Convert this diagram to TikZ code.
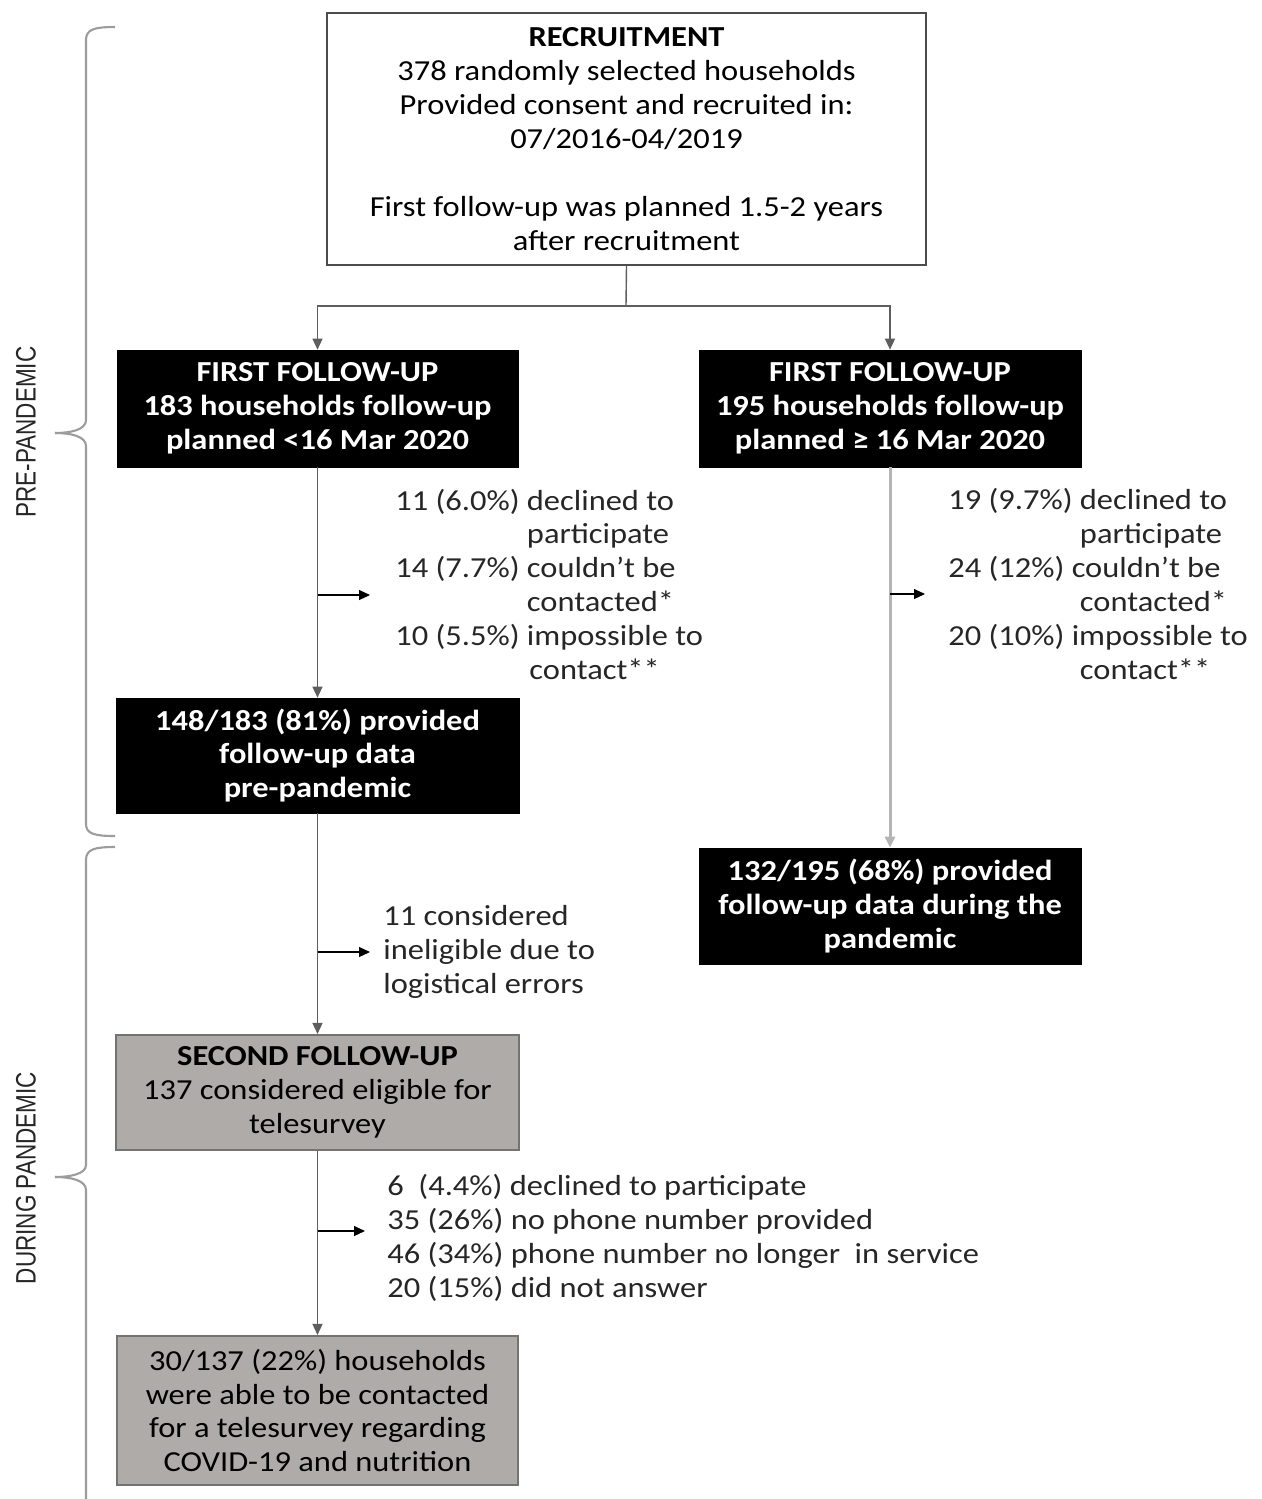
\documentclass[tikz,border=0pt]{standalone}
\usepackage{fontspec}
\setmainfont{Carlito}[FakeStretch=1.12]
\newfontfamily\narrowfont{Liberation Sans}
\usepackage{tikz}
\usetikzlibrary{arrows.meta,positioning,calc}
\definecolor{boxgray}  {HTML}{AEABA9}
\definecolor{linegray} {HTML}{5E5E5E}
\definecolor{lightline}{HTML}{B4B4B4}
\definecolor{bracegray}{HTML}{9C9C9C}
\newcommand\fsz{\fontsize{16.5}{19.3}\selectfont}
\newcommand\phasefont{\narrowfont\fontsize{16}{19}\selectfont}

\begin{document}
\begin{tikzpicture}[
  base/.style    ={align=center,inner sep=0pt,font=\fsz},
  recbox/.style  ={base,draw=black!70,fill=white,line width=0.8pt},
  darkbox/.style ={base,draw=black,fill=black,text=white,font=\fsz\bfseries},
  graybox/.style ={base,draw=black!55,fill=boxgray,line width=1.2pt},
  note/.style    ={inner sep=0pt,font=\fsz,align=left,anchor=west,text=black!85},
  phase/.style   ={rotate=90,xscale=0.8,font=\phasefont,text=black!85,inner sep=0pt},
  tip/.style     ={-{Triangle[length=0.22cm,width=0.2cm]}},
  link/.style    ={tip,draw=linegray,line width=0.8pt},
  linkr/.style   ={tip,draw=lightline,line width=1.7pt},
  side/.style    ={tip,draw=black,line width=0.6pt},
  brace/.style   ={draw=bracegray,line width=1.2pt},
  x=0.02cm, y=-0.02cm
]
\useasboundingbox (0,0) rectangle (1262,1499);
%% Recruitment
\node[recbox,minimum width=11.98cm,minimum height=5.04cm] (recruit) at (626.5,139)
  {\textbf{RECRUITMENT}\\378 randomly selected households\\
   Provided consent and recruited in:\\07/2016-04/2019\\[19.3pt]
   First follow-up was planned 1.5-2 years\\after recruitment};
%% First follow-up (left: before 16 Mar, right: after)
\node[darkbox,minimum width=8.02cm,minimum height=2.34cm] (ffuL) at (317.5,408.5)
  {FIRST FOLLOW-UP\\183 households follow-up\\planned <16 Mar 2020};
\node[darkbox,minimum width=7.64cm,minimum height=2.34cm] (ffuR) at (890,408.5)
  {FIRST FOLLOW-UP\\195 households follow-up\\planned ≥ 16 Mar 2020};
%% Data provided
\node[darkbox,minimum width=8.06cm,minimum height=2.3cm] (provL) at (317.5,755.5)
  {148/183 (81\%) provided\\follow-up data\\pre-pandemic};
\node[darkbox,minimum width=7.64cm,minimum height=2.32cm] (provR) at (890,906)
  {132/195 (68\%) provided\\follow-up data during the\\pandemic};
%% Second follow-up (telesurvey)
\node[graybox,minimum width=8.06cm,minimum height=2.3cm] (second) at (317.5,1092.5)
  {\textbf{SECOND FOLLOW-UP}\\137 considered eligible for\\telesurvey};
\node[graybox,minimum width=8.02cm,minimum height=2.98cm] (tele) at (317.5,1410.5)
  {30/137 (22\%) households\\were able to be contacted\\for a telesurvey regarding\\COVID-19 and nutrition};
%% Exclusions
\node[note] (exclL) at (395,588)
  {\begin{tabular}{@{}l@{ }l@{}}
   11 (6.0\%) & declined to\\ & participate\\
   14 (7.7\%) & couldn’t be\\ & contacted*\\
   10 (5.5\%) & impossible to\\ & \hspace*{0.05cm}contact**
   \end{tabular}};
\node[note] (exclR) at (948,584)
  {19 (9.7\%) declined to\\\hphantom{19 (9.7\%) }participate\\
   24 (12\%) couldn’t be\\\hphantom{19 (9.7\%) }contacted*\\
   20 (10\%) impossible to\\\hphantom{19 (9.7\%) }contact**};
\node[note] (inelig) at (383,952)
  {11 considered\\ineligible due to\\logistical errors};
\node[note] (lost) at (387,1238)
  {6 \ (4.4\%) declined to participate\\35 (26\%) no phone number provided\\
   46 (34\%) phone number no longer \ in service\\20 (15\%) did not answer};
%% Phase labels
\node[phase] (pre)    at (26,432)  {PRE-PANDEMIC};
\node[phase] (during) at (26,1178) {DURING PANDEMIC};
%% Arrow ends
\coordinate (split)    at (626,306);
\coordinate (exclLtip) at (370,595);
\coordinate (exclRtip) at (925,594);
\coordinate (ineligtip) at (370,952);
\coordinate (losttip)  at (365,1231);
%% Recruitment -> first follow-up
\draw[draw=linegray,line width=0.8pt] (recruit.south) -- (split);
\draw[link] (split) -| (ffuL.north);
\draw[link] (split) -| (ffuR.north);
%% Down the columns
\draw[link]  (ffuL.south)   -- (provL.north);
\draw[linkr] (ffuR.south)   -- (provR.north);
\draw[link]  (provL.south)  -- (second.north);
\draw[link]  (second.south) -- (tele.north);
%% Side arrows to exclusions
\draw[side] (exclLtip -| ffuL)   -- (exclLtip);
\draw[side] (exclRtip -| ffuR)   -- (exclRtip);
\draw[side] (ineligtip -| provL) -- (ineligtip);
\draw[side] (losttip -| second)  -- (losttip);
%% Braces
\draw[brace] (115,27) .. controls (95,27) and (86,29) .. (86,40)
  -- (86,420) .. controls (86,430) and (70,433) .. (55,433);
\draw[brace] (55,433) .. controls (70,433) and (86,436) .. (86,446)
  -- (86,824) .. controls (86,834) and (95,836) .. (115,836);
\draw[brace] (115,847) .. controls (95,847) and (86,849) .. (86,860)
  -- (86,1165) .. controls (86,1174) and (70,1177) .. (55,1177);
\draw[brace] (55,1177) .. controls (70,1177) and (86,1180) .. (86,1190)
  -- (86,1510);
\end{tikzpicture}
\end{document}
